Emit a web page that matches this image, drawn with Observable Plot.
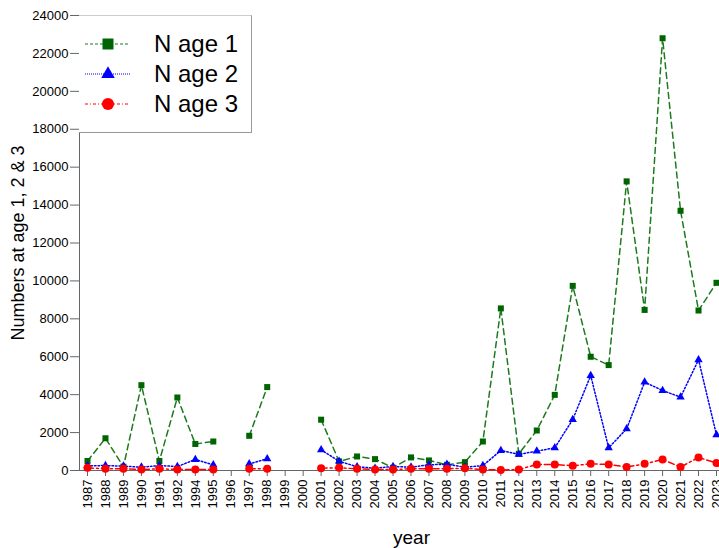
<!DOCTYPE html>
<html><head><meta charset="utf-8">
<script src="https://cdn.jsdelivr.net/npm/d3@7"></script>
<script src="https://cdn.jsdelivr.net/npm/@observablehq/plot@0.6"></script>
<style>
html,body{margin:0;padding:0;background:#fff;overflow:hidden}
#wrap{position:relative;width:719px;height:548px}
#legend{position:absolute;left:79px;top:15px;width:173px;height:118px;background:#fff;box-sizing:border-box;border-top:1px solid #ccc;border-right:1px solid #999;border-bottom:1px solid #999}
</style>
</head><body>
<div id="wrap"><div id="legend"></div></div>
<script>
const years = ["1987","1988","1989","1990","1991","1992","1994","1995","1996","1997","1998","1999","2000",
  "2001","2002","2003","2004","2005","2006","2007","2008","2009","2010","2011","2012","2013","2014","2015",
  "2016","2017","2018","2019","2020","2021","2022","2023"];
const age1 = [500,1700,200,4500,500,3850,1400,1530,null,1830,4400,null,null,
  2680,480,740,600,140,690,530,300,440,1530,8550,880,2110,3990,9740,6000,5560,15250,8470,22800,13700,8440,9900];
const age2 = [250,260,230,175,260,210,580,300,null,350,615,null,null,
  1090,490,200,120,210,175,300,330,175,260,1055,850,1020,1195,2690,5010,1195,2200,4660,4220,3870,5840,1880];
const age3 = [140,90,90,50,90,50,50,50,null,90,90,null,null,
  120,140,90,50,50,90,90,90,120,50,30,50,320,320,250,350,320,180,350,580,180,690,390];
const yTicks = [0,2000,4000,6000,8000,10000,12000,14000,16000,18000,20000,22000,24000];
const seriesNames = ["N age 1","N age 2","N age 3"];

const data = years.map((y,i)=>({year:y, a1:age1[i], a2:age2[i], a3:age3[i]}));
const font = "'Liberation Sans', Arial, sans-serif";
const styles = [
  {key:"a1", line:"#1d7a1d", fill:"#006400", dash:"6,4", symbol:"square", r:3.4, lw:1.5},
  {key:"a2", line:"#0000ff", fill:"#0000ff", dash:"1.5,2", symbol:"triangle", r:3.1, lw:1.5},
  {key:"a3", line:"#ff0000", fill:"#ff0000", dash:"6,3,2,3", symbol:"circle", r:4, lw:1.5}
];

const seriesMarks = styles.flatMap(s => [
  Plot.lineY(data, {x:"year", y:s.key, stroke:s.line, strokeWidth:s.lw, strokeDasharray:s.dash}),
  Plot.dot(data, {x:"year", y:s.key, symbol:s.symbol, r:s.r, fill:s.fill, stroke:"none"})
]);

const chart = Plot.plot({
  width:719, height:548, marginLeft:79, marginRight:0, marginTop:15, marginBottom:78,
  style:{fontFamily:font, fontSize:"13px", color:"#000", background:"#fff", overflow:"visible"},
  x:{type:"point", domain:years, range:[87,716], padding:0},
  y:{domain:[0,24000]},
  marks:[
    Plot.axisY({ticks:yTicks, tickSize:9, tickPadding:2, tickFormat:d=>String(d), label:null, stroke:"#666", fill:"#000", fontSize:13}),
    Plot.axisX({tickSize:6, tickPadding:3, tickRotate:-90, label:null, stroke:"#666", fill:"#000", fontSize:13}),
    Plot.ruleY([0], {stroke:"#666"}),
    Plot.ruleX([years[0]], {dx:-8, stroke:"#666"}),
    ...seriesMarks,
    Plot.text(["Numbers at age 1, 2 & 3"], {frameAnchor:"left", dx:-61, dy:0, rotate:-90, textAnchor:"middle", fontSize:18, fill:"#000"}),
    Plot.text(["year"], {frameAnchor:"bottom", dx:12, dy:67, textAnchor:"middle", lineAnchor:"middle", fontSize:19, fill:"#000"})
  ]
});
document.getElementById("wrap").prepend(chart);

// legend
const lg = d3.select("#legend").append("svg").attr("width",172).attr("height",117);
const legendSyms = [
  {sym:d3.symbolSquare, size:121},
  {sym:d3.symbolTriangle, size:80},
  {sym:d3.symbolCircle, size:115}
];
styles.forEach((s,i)=>{
  const g = lg.append("g").attr("transform",`translate(0,${28 + i*30})`);
  g.append("line").attr("x1",6).attr("x2",51).attr("y1",0).attr("y2",0)
    .attr("stroke",s.line).attr("stroke-width",1).attr("stroke-dasharray", i===1 ? "1,1" : (i===0 ? "3,2" : "3,2,1,2"));
  g.append("path").attr("d", d3.symbol(legendSyms[i].sym, legendSyms[i].size)()).attr("transform","translate(29,0)").attr("fill",s.fill);
  g.append("text").attr("x",75).attr("y",0).attr("dy","0.35em").attr("font-family",font).attr("font-size",24).attr("fill","#000").text(seriesNames[i]);
});
</script>
</body></html>
